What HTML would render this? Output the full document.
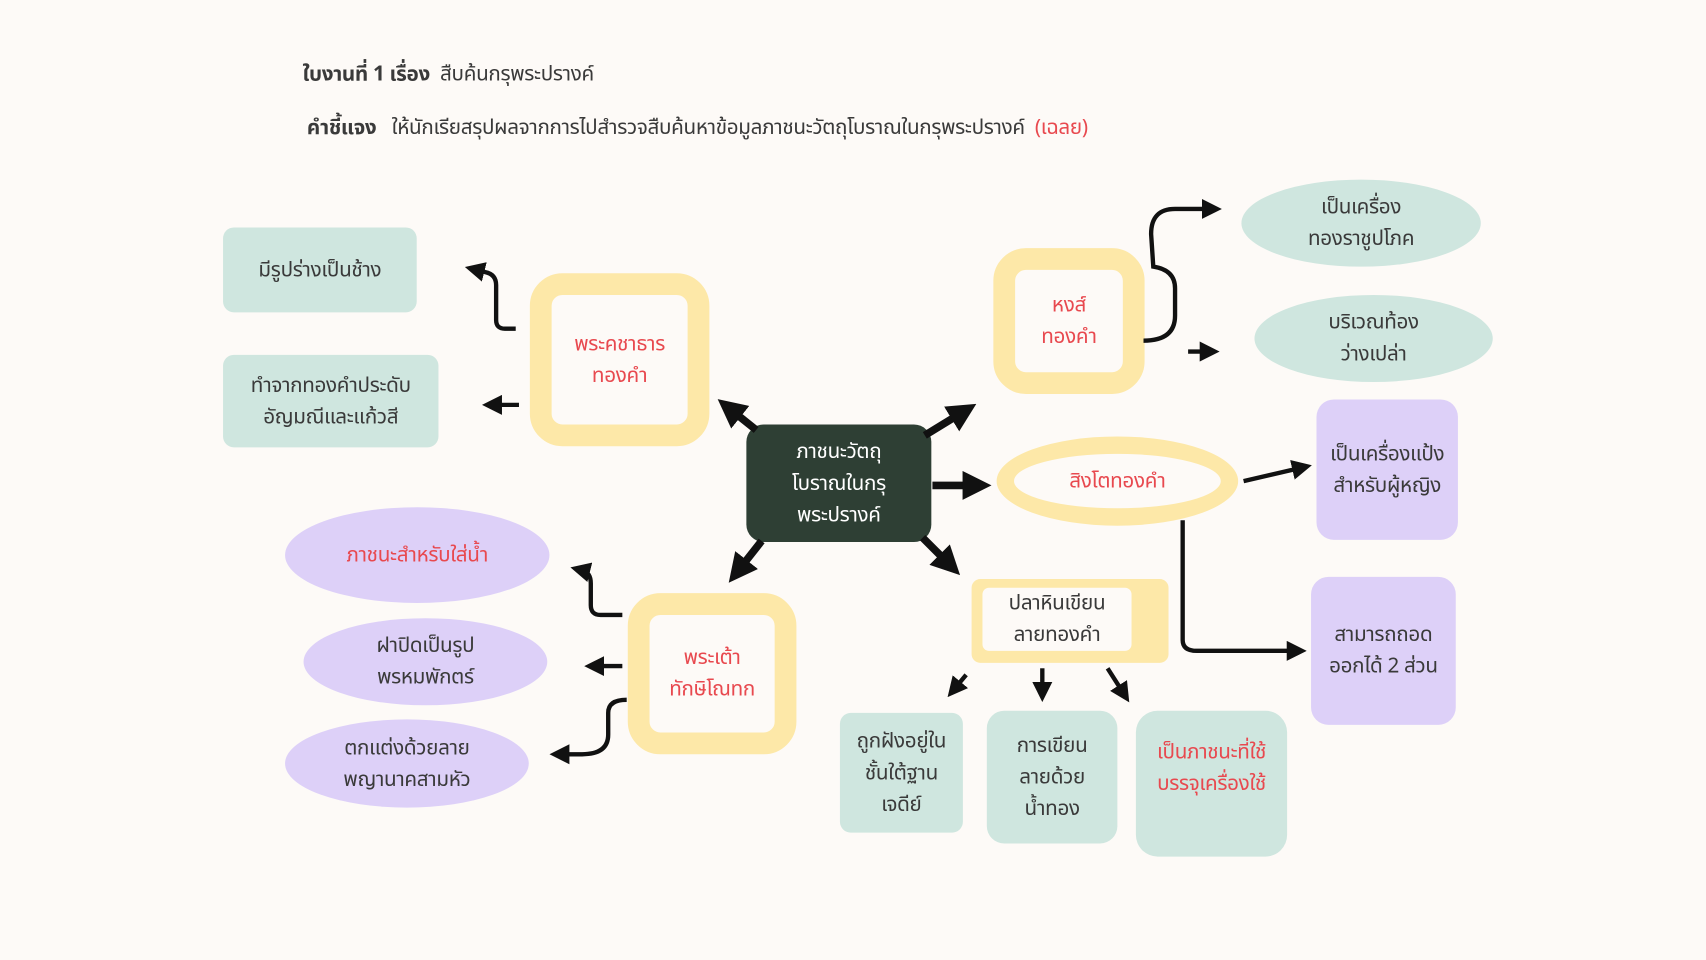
<!DOCTYPE html>
<html><head><meta charset="utf-8"><style>
html,body{margin:0;padding:0;background:#fdfaf7;}
body{width:1706px;height:960px;overflow:hidden;}
#w{position:absolute;left:0;top:0;width:1568px;height:882px;transform:scale(1.08801,1.0884);transform-origin:0 0;font-family:"Noto Sans Thai","Loma","Garuda","Norasi","Liberation Sans","DejaVu Sans",sans-serif;color:#3a3a3a;}
.a{position:absolute;display:flex;align-items:center;justify-content:center;text-align:center;font-size:19px;line-height:29px;box-sizing:border-box;letter-spacing:-0.3px;}
.g{background:#cfe6df;border-radius:10px;}
.p{background:#ddd0f8;border-radius:16px;}
.y{border:20px solid #fde8a8;background:#fdfaf7;border-radius:30px;color:#e8494f;}
.e{border-radius:50% !important;}
.r{color:#e8494f;}
.t{position:absolute;font-size:19px;white-space:nowrap;letter-spacing:-0.3px;}
</style></head><body><div id="w">
<div class="t" style="left:278px;top:54px"><b>ใบงานที่ 1 เรื่อง</b>&nbsp; สืบค้นกรุพระปรางค์</div>
<div class="t" style="left:282px;top:103px"><b>คำชี้แจง</b>&nbsp;&nbsp; ให้นักเรียสรุปผลจากการไปสำรวจสืบค้นหาข้อมูลภาชนะวัตถุโบราณในกรุพระปรางค์ &nbsp;<span class="r">(เฉลย)</span></div>

<div class="a g" style="left:205px;top:209px;width:178px;height:78px">มีรูปร่างเป็นช้าง</div>
<div class="a g" style="left:205px;top:326px;width:198px;height:85px">ทำจากทองคำประดับ<br>อัญมณีและแก้วสี</div>
<div class="a y" style="left:487px;top:251px;width:165px;height:159px">พระคชาธาร<br>ทองคำ</div>
<div class="a" style="left:686px;top:390px;width:170px;height:108px;background:#2e3f34;color:#fff;border-radius:16px">ภาชนะวัตถุ<br>โบราณในกรุ<br>พระปรางค์</div>
<div class="a y" style="left:913px;top:228px;width:139px;height:134px">หงส์<br>ทองคำ</div>
<div class="a g e" style="left:1141px;top:165px;width:220px;height:80px">เป็นเครื่อง<br>ทองราชูปโภค</div>
<div class="a g e" style="left:1153px;top:271px;width:219px;height:80px">บริเวณท้อง<br>ว่างเปล่า</div>
<div class="a y e" style="left:916px;top:401px;width:222px;height:82px;border-width:16px">สิงโตทองคำ</div>
<div class="a p" style="left:1210px;top:367px;width:130px;height:129px">เป็นเครื่องแป้ง<br>สำหรับผู้หญิง</div>
<div class="a p" style="left:1205px;top:530px;width:133px;height:136px">สามารถถอด<br>ออกได้ 2 ส่วน</div>
<div class="a" style="left:893px;top:532px;width:181px;height:77px;background:#fde8a8;border-radius:8px"><div style="position:absolute;left:10px;top:8px;width:137px;height:58px;background:#fdfaf7;border-radius:6px;display:flex;align-items:center;justify-content:center">ปลาหินเขียน<br>ลายทองคำ</div></div>
<div class="a g" style="left:772px;top:655px;width:113px;height:110px">ถูกฝังอยู่ใน<br>ชั้นใต้ฐาน<br>เจดีย์</div>
<div class="a g" style="left:907px;top:653px;width:120px;height:122px;border-radius:16px">การเขียน<br>ลายด้วย<br>น้ำทอง</div>
<div class="a g r" style="left:1044px;top:653px;width:139px;height:134px;border-radius:20px;align-items:flex-start;padding-top:24px">เป็นภาชนะที่ใช้<br>บรรจุเครื่องใช้</div>
<div class="a p e r" style="left:262px;top:466px;width:243px;height:88px">ภาชนะสำหรับใส่น้ำ</div>
<div class="a p e" style="left:279px;top:568px;width:224px;height:80px">ฝาปิดเป็นรูป<br>พรหมพักตร์</div>
<div class="a p e" style="left:262px;top:661px;width:224px;height:81px">ตกแต่งด้วยลาย<br>พญานาคสามหัว</div>
<div class="a y" style="left:577px;top:545px;width:155px;height:148px">พระเต้า<br>ทักษิโณทก</div>

<svg width="1568" height="882" style="position:absolute;left:0;top:0">
<defs>
<marker id="m" viewBox="0 0 10 10" refX="4" refY="5" markerWidth="4.6" markerHeight="4.6" orient="auto"><path d="M0,0L10,5L0,10z" fill="#111"/></marker>
<marker id="M" viewBox="0 0 10 10" refX="5" refY="5" markerWidth="3.8" markerHeight="3.8" orient="auto"><path d="M0,0L10,5L0,10z" fill="#111"/></marker>
</defs>
<g fill="none" stroke="#111" stroke-width="4" marker-end="url(#m)">
<path d="M474,302L464,302Q456,302 456,294L456,262Q456,252 446,250L438,248"/>
<path d="M477,372L454,372"/>
<path d="M1051,313Q1080,313 1080,290L1080,265Q1080,248 1060,245L1058,215Q1058,192 1080,192L1112,192"/>
<path d="M1092,323L1110,323"/>
<path d="M1143,442L1195,430"/>
<path d="M1087,478L1087,588Q1087,598 1100,598L1190,598"/>
<path d="M888,620L878,632"/>
<path d="M958,614L958,634"/>
<path d="M1018,614L1032,636"/>
<path d="M572,565L552,565Q543,565 543,556L543,536Q543,526 535,524"/>
<path d="M572,612L548,612"/>
<path d="M576,643Q559,643 559,655L559,675Q559,693 535,693L516,693"/>
</g>
<g fill="none" stroke="#111" stroke-width="7" marker-end="url(#M)">
<path d="M695,395L670,375"/>
<path d="M850,400L886,378"/>
<path d="M857,446L898,446"/>
<path d="M700,497L678,525"/>
<path d="M848,494L873,519"/>
</g>
</svg>
</div></body></html>
